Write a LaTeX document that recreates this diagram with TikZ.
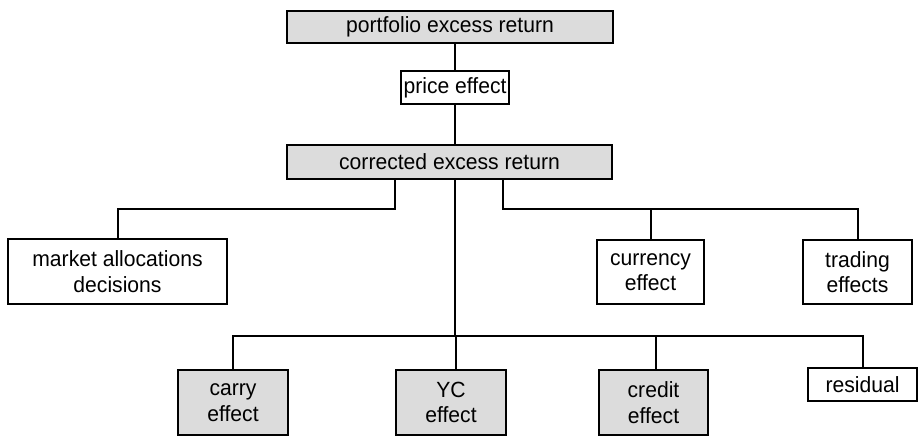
\documentclass[tikz,border=0pt]{standalone}
\usepackage{fontspec}
\setmainfont{Liberation Sans}[FakeStretch=0.96]
\definecolor{boxgray}{RGB}{220,220,220}
\begin{document}
\begin{tikzpicture}[x=1pt,y=-1pt,
  every node/.style={font=\fontsize{22}{25.5}\selectfont},
  box/.style={draw=black,line width=1.6pt,align=center,inner sep=0pt,minimum width=#1},
  gbox/.style={box=#1,fill=boxgray},
  wbox/.style={box=#1,fill=white},
  conn/.style={line width=1.5pt}]
\useasboundingbox (0,0) rectangle (924,438);
\node[gbox=326pt,minimum height=32pt] (por) at (450,27) {portfolio excess return};
\node[wbox=108pt,minimum height=33pt] (price) at (455,87.5) {price effect};
\node[gbox=325pt,minimum height=34pt] (cor) at (449.5,162) {corrected excess return};
\node[wbox=219pt,minimum height=65pt] (mkt) at (117.5,271.5) {market allocations\\decisions};
\node[wbox=107pt,minimum height=64pt] (cur) at (650.5,272) {currency\\effect};
\node[wbox=109pt,minimum height=64pt] (trd) at (857.5,272) {trading\\effects};
\node[gbox=110pt,minimum height=65pt] (car) at (233,402.5) {carry\\effect};
\node[gbox=110pt,minimum height=65pt] (yc) at (451,402.5) {YC\\effect};
\node[gbox=109pt,minimum height=65pt] (cre) at (653.5,402.5) {credit\\effect};
\node[wbox=109pt,minimum height=33pt] (res) at (862.5,384.5) {residual};
\coordinate (jl) at (395,209);
\coordinate (jr) at (503,209);
\coordinate (jc) at (455,336);
% top chain
\draw[conn] (price.north) -- (price.north |- por.south);
\draw[conn] (price.south) -- (price.south |- cor.north);
% left branch
\draw[conn] (jl |- cor.south) -- (jl) -| ([xshift=0.5pt]mkt.north);
% right branch
\draw[conn] (jr |- cor.south) -- (jr) -| ([xshift=0.5pt]trd.north);
\draw[conn] ([xshift=0.5pt]cur.north |- jr) -- ([xshift=0.5pt]cur.north);
% center branch
\draw[conn] (jc |- cor.south) -- (jc);
\draw[conn] (car.north) -- (car.north |- jc) -- ([xshift=0.5pt]res.north |- jc) -- ([xshift=0.5pt]res.north);
\draw[conn] ([xshift=5pt]yc.north) -- ([xshift=5pt]yc.north |- jc);
\draw[conn] ([xshift=2.5pt]cre.north) -- ([xshift=2.5pt]cre.north |- jc);
\end{tikzpicture}
\end{document}
